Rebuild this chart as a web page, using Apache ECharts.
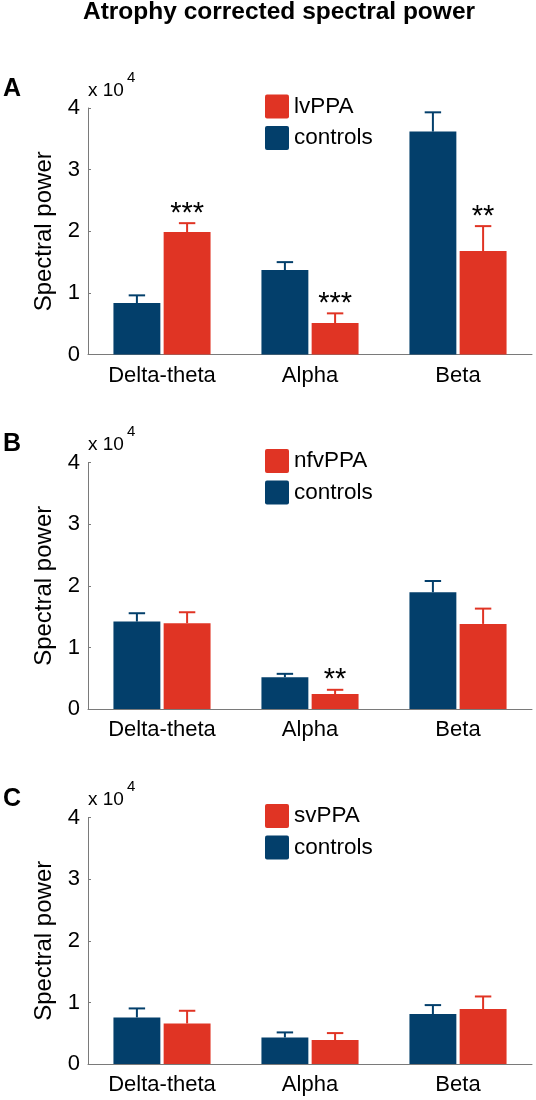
<!DOCTYPE html>
<html><head><meta charset="utf-8">
<script src="https://cdn.jsdelivr.net/npm/echarts@6/dist/echarts.min.js"></script>
<style>html,body{margin:0;padding:0;background:#fff}#c{width:536px;height:1100px}</style>
</head><body><div id="c"></div>
<script>
// ---- data ----
const categories = ['Delta-theta', 'Alpha', 'Beta'];
const yTickLabels = ['0', '1', '2', '3', '4'];
const mainTitle = 'Atrophy corrected spectral power';
const panelLetters = ['A', 'B', 'C'];
const patientNames = ['lvPPA', 'nfvPPA', 'svPPA'];
const controlsName = 'controls';

const controlsA = [8370, 13710, 36170];
const controlsErrA = [9610, 15000, 39300];
const patientA = [19870, 5130, 16790];
const patientErrA = [21320, 6690, 20840];
const sigA = ['***', '***', '**'];

const controlsB = [14200, 5180, 18950];
const controlsErrB = [15550, 5720, 20780];
const patientB = [13930, 2430, 13820];
const patientErrB = [15710, 3130, 16300];
const sigB = ['', '**', ''];

const controlsC = [7570, 4320, 8110];
const controlsErrC = [9030, 5140, 9570];
const patientC = [6590, 3890, 8920];
const patientErrC = [8650, 5030, 10970];
const sigC = ['', '', ''];

// ---- style ----
const FONT = 'Liberation Sans, Arial, Helvetica, sans-serif';
const RED = '#e03424';
const BLUE = '#033f6b';
const AXIS = '#7a7a7a';
const BAR_FRAC = 0.317;
const GAP_FRAC = 0.07;
const PANEL_TOP = [108, 462.5, 817.5];
const GRID_H = 246.6;
const LEGEND_ICON = 'path://M2,0H22Q24,0,24,2V22Q24,24,22,24H2Q0,24,0,22V2Q0,0,2,0Z';

const panels = [
  {c: controlsA, ce: controlsErrA, p: patientA, pe: patientErrA, sig: sigA},
  {c: controlsB, ce: controlsErrB, p: patientB, pe: patientErrB, sig: sigB},
  {c: controlsC, ce: controlsErrC, p: patientC, pe: patientErrC, sig: sigC}
];

function errRender(side, color, sig) {
  return function (params, api) {
    const i = api.value(0), v = api.value(1), e = api.value(2);
    const top = api.coord([i, e]);
    const base = api.coord([i, v]);
    const band = api.size([1, 0])[0];
    const bw = band * BAR_FRAC;
    const gap = bw * GAP_FRAC;
    const x = top[0] + side * (bw + gap) / 2;
    const cap = bw * 0.175;
    const children = [
      {type: 'line', shape: {x1: x, y1: base[1], x2: x, y2: top[1]}, style: {stroke: color, lineWidth: 2}},
      {type: 'line', shape: {x1: x - cap, y1: top[1], x2: x + cap, y2: top[1]}, style: {stroke: color, lineWidth: 2}}
    ];
    const s = sig[params.dataIndex];
    if (s) {
      children.push({type: 'text', style: {text: s, x: x, y: top[1] - 9.5, align: 'center', verticalAlign: 'middle',
        fontSize: 29, fontFamily: FONT, fill: '#000'}});
    }
    return {type: 'group', children: children};
  };
}

const grid = [], xAxis = [], yAxis = [], series = [], legend = [];
const title = [{
  text: mainTitle, left: 279, textAlign: 'center', top: 0, padding: 0,
  textStyle: {fontSize: 24.5, fontWeight: 'bold', color: '#000', fontFamily: FONT}
}];

panels.forEach((pn, k) => {
  const top = PANEL_TOP[k];
  grid.push({left: 88, right: 4, top: top, height: GRID_H, containLabel: false});
  xAxis.push({
    type: 'category', gridIndex: k, data: categories,
    axisLine: {show: true, lineStyle: {color: AXIS, width: 1}},
    axisTick: {show: false},
    axisLabel: {fontSize: 22, color: '#000', margin: 10, fontFamily: FONT}
  });
  yAxis.push({
    type: 'value', gridIndex: k, min: 0, max: 40000, interval: 10000,
    name: 'Spectral power', nameLocation: 'middle', nameGap: 31,
    nameTextStyle: {fontSize: 24, color: '#000', fontFamily: FONT},
    axisLine: {show: true, lineStyle: {color: AXIS, width: 1}},
    axisTick: {show: true, inside: true, length: 3, lineStyle: {color: AXIS}},
    splitLine: {show: false},
    axisLabel: {fontSize: 22, color: '#000', margin: 8, fontFamily: FONT,
      formatter: (v, idx) => yTickLabels[idx]}
  });
  series.push({
    name: controlsName, type: 'bar', xAxisIndex: k, yAxisIndex: k, data: pn.c,
    barWidth: (BAR_FRAC * 100) + '%', barGap: (GAP_FRAC * 100) + '%',
    itemStyle: {color: BLUE}, emphasis: {disabled: true}
  });
  series.push({
    name: patientNames[k], type: 'bar', xAxisIndex: k, yAxisIndex: k, data: pn.p,
    barWidth: (BAR_FRAC * 100) + '%', barGap: (GAP_FRAC * 100) + '%',
    itemStyle: {color: RED}, emphasis: {disabled: true}
  });
  series.push({
    name: 'err-c-' + k, type: 'custom', xAxisIndex: k, yAxisIndex: k, z: 3,
    renderItem: errRender(-1, BLUE, ['', '', '']),
    data: categories.map((c, i) => [i, pn.c[i], pn.ce[i]])
  });
  series.push({
    name: 'err-p-' + k, type: 'custom', xAxisIndex: k, yAxisIndex: k, z: 3,
    renderItem: errRender(1, RED, pn.sig),
    data: categories.map((c, i) => [i, pn.p[i], pn.pe[i]])
  });
  legend.push({
    data: [patientNames[k], controlsName], orient: 'vertical', left: 265, top: top - 13.6,
    itemWidth: 24, itemHeight: 24, itemGap: 7.5, icon: LEGEND_ICON, padding: 0,
    selectedMode: false,
    textStyle: {fontSize: 22.5, color: '#000', fontFamily: FONT}
  });
  title.push({text: panelLetters[k], left: 3, top: top - 31, padding: 0,
    textStyle: {fontSize: 25, fontWeight: 'bold', color: '#000', fontFamily: FONT}});
  title.push({text: 'x 10', left: 88, top: top - 26.8, padding: 0,
    textStyle: {fontSize: 19, fontWeight: 'normal', color: '#000', fontFamily: FONT}});
  title.push({text: '4', left: 127, top: top - 38, padding: 0,
    textStyle: {fontSize: 15, fontWeight: 'normal', color: '#000', fontFamily: FONT}});
});

const chart = echarts.init(document.getElementById('c'), null, {renderer: 'canvas'});
chart.setOption({
  animation: false,
  backgroundColor: '#fff',
  title: title, legend: legend, grid: grid, xAxis: xAxis, yAxis: yAxis, series: series
});
</script>
</body></html>
